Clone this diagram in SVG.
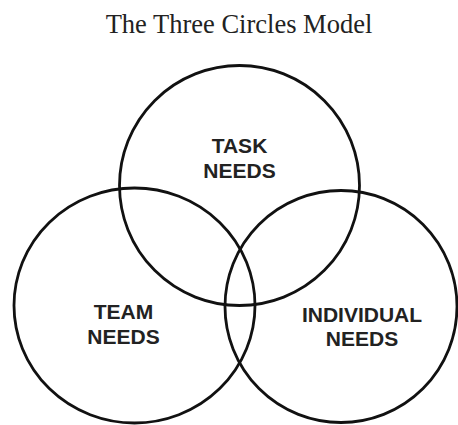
<svg xmlns="http://www.w3.org/2000/svg" width="458" height="425" viewBox="0 0 458 425">
<style>
.c{fill:none;stroke:#111;stroke-width:2.8}
.l{font-family:"Liberation Sans",Arial,sans-serif;font-weight:bold;font-size:21px;fill:#222;text-anchor:middle}
.t{font-family:"Liberation Serif","Times New Roman",serif;font-size:26.5px;fill:#222;text-anchor:middle}
</style>
<rect width="458" height="425" fill="#fff"/>
<text class="t" x="239" y="33">The Three Circles Model</text>
<g id="task">
<circle class="c" cx="239.5" cy="185.5" r="120"/>
<text class="l" x="239.5" y="153">TASK</text>
<text class="l" x="239.5" y="178">NEEDS</text>
</g>
<g id="team">
<ellipse class="c" cx="134.5" cy="305.5" rx="120.5" ry="117.5"/>
<text class="l" x="123.5" y="319">TEAM</text>
<text class="l" x="123.5" y="344">NEEDS</text>
</g>
<g id="individual">
<circle class="c" cx="341" cy="306.5" r="116"/>
<text class="l" x="362" y="322">INDIVIDUAL</text>
<text class="l" x="362" y="346">NEEDS</text>
</g>
<g id="connectors"></g>
</svg>
